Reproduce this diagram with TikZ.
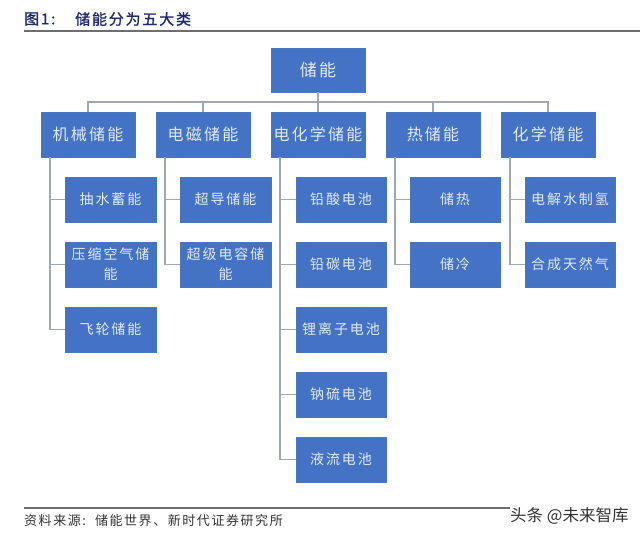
\documentclass[tikz,border=0pt]{standalone}
\usepackage{fontspec}
\setmainfont{Noto Sans CJK SC}
\newfontfamily\boxfont[LetterSpace=14]{Noto Sans CJK SC}
\newfontfamily\titlefont[LetterSpace=12,FakeBold=1.2]{Noto Sans CJK SC}
\newfontfamily\notefont[LetterSpace=12]{Noto Sans CJK SC}
\definecolor{boxblue}{HTML}{4472C4}
\definecolor{boxedge}{HTML}{4A76BE}
\definecolor{connector}{HTML}{A0A8B4}
\definecolor{rulegray}{HTML}{6E6E6E}
\definecolor{navy}{HTML}{1F2A6E}
\definecolor{boxtext}{HTML}{E4EAF4}
\tikzset{
  x=1pt,y=-1pt,
  base/.style={draw=boxedge,fill=boxblue,text=boxtext,inner sep=0pt,align=center,line width=0.5pt,font=\boxfont},
  rootbox/.style={base,minimum width=93.5pt,minimum height=43.5pt,font=\boxfont\fontsize{17}{20}\selectfont},
  catbox/.style={base,minimum width=93.5pt,minimum height=44.5pt,font=\boxfont\fontsize{16}{18}\selectfont},
  itembox/.style={base,minimum width=90.5pt,minimum height=44.5pt,text width=89pt,font=\boxfont\fontsize{14}{22}\selectfont},
  link/.style={draw=connector,line width=1.7pt},
  rulebar/.style={draw=rulegray,line width=2pt}
}
\begin{document}
\begin{tikzpicture}
\useasboundingbox (0,0) rectangle (640,538);
% title and rules
\node[anchor=west,inner sep=0pt,text=navy,font=\titlefont\fontsize{15}{16}\selectfont] (fig) at (24,19) {图1:};
\node[anchor=west,inner sep=0pt,text=navy,font=\titlefont\fontsize{15}{16}\selectfont] (title) at (75,19) {储能分为五大类};
\coordinate (t1) at (24,30.5); \coordinate (t2) at (640,30.5);
\draw[rulebar] (t1) -- (t2);
\coordinate (b1) at (24,507.5); \coordinate (b2) at (510,507.5);
\draw[rulebar] (b1) -- (b2);
\node[anchor=west,inner sep=0pt,text=black!80,font=\notefont\fontsize{13}{14}\selectfont] (src) at (24,521) {资料来源:\hspace{9pt}储能世界、新时代证券研究所};
\node[anchor=west,inner sep=0pt,text=black!80,font=\fontsize{16.5}{18}\selectfont] (mark) at (510,516) {头条 @未来智库};
% boxes
\node[rootbox] (root) at (318,70) {储能};
\node[catbox] (a) at (88,134.5) {机械储能};
\node[catbox] (b) at (203,134.5) {电磁储能};
\node[catbox] (c) at (318,134.5) {电化学储能};
\node[catbox] (d) at (433,134.5) {热储能};
\node[catbox] (e) at (548,134.5) {化学储能};
\node[itembox] (a1) at (110.5,199.5) {抽水蓄能};
\node[itembox] (a2) at (110.5,264.5) {压缩空气储\\[-2pt]能};
\node[itembox] (a3) at (110.5,329.5) {飞轮储能};
\node[itembox] (b1x) at (225.5,199.5) {超导储能};
\node[itembox] (b2x) at (225.5,264.5) {超级电容储\\[-2pt]能};
\node[itembox] (c1) at (341,199.5) {铅酸电池};
\node[itembox] (c2) at (341,264.5) {铅碳电池};
\node[itembox] (c3) at (341,329.5) {锂离子电池};
\node[itembox] (c4) at (341,394.5) {钠硫电池};
\node[itembox] (c5) at (341,459.5) {液流电池};
\node[itembox] (d1) at (455,199.5) {储热};
\node[itembox] (d2) at (455,264.5) {储冷};
\node[itembox] (e1) at (570,199.5) {电解水制氢};
\node[itembox] (e2) at (570,264.5) {合成天然气};
% top bus
\foreach \n in {a,b,c,d,e}{
  \draw[link] (root.south) -- ++(0,10) -| (\n.north);
}
% side connectors
\foreach \n/\k in {a/a1,a/a2,a/a3,b/b1x,b/b2x,c/c1,c/c2,c/c3,c/c4,c/c5,d/d1,d/d2,e/e1,e/e2}{
  \draw[link] ([xshift=9pt]\n.south west) |- (\k.west);
}
\end{tikzpicture}
\end{document}
